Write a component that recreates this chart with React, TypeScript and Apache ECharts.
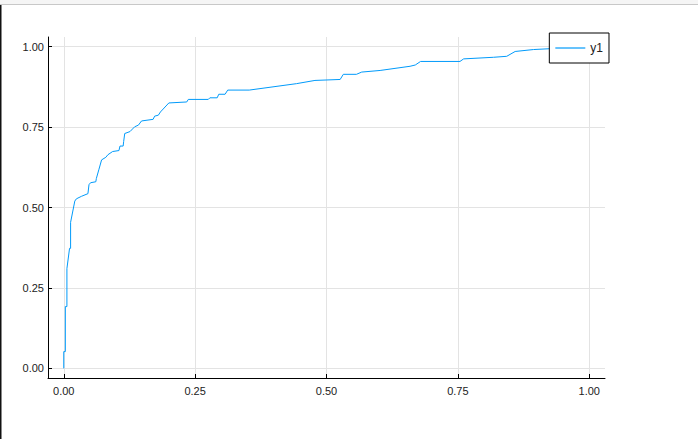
import React, { useEffect, useRef } from "react";
import * as echarts from "echarts";

const fpr = [
  0, 0, 0.003, 0.003, 0.006, 0.006, 0.011, 0.013, 0.013, 0.021, 0.024, 0.034, 0.046, 0.048, 0.051, 0.061,
  0.062, 0.067, 0.072, 0.08, 0.084, 0.093, 0.105, 0.107, 0.113, 0.114, 0.116, 0.126, 0.135, 0.142, 0.148,
  0.17, 0.173, 0.18, 0.184, 0.2, 0.234, 0.237, 0.275, 0.278, 0.292, 0.295, 0.307, 0.312, 0.353, 0.443,
  0.478, 0.526, 0.532, 0.557, 0.567, 0.602, 0.659, 0.669, 0.679, 0.754, 0.761, 0.818, 0.843, 0.859, 0.894,
  0.93, 1.0,
];
const tpr = [
  0, 0.052, 0.052, 0.192, 0.192, 0.31, 0.373, 0.373, 0.454, 0.52, 0.527, 0.535, 0.543, 0.571, 0.577, 0.58,
  0.59, 0.619, 0.648, 0.656, 0.664, 0.674, 0.677, 0.691, 0.691, 0.705, 0.73, 0.736, 0.751, 0.756, 0.769,
  0.774, 0.784, 0.787, 0.797, 0.825, 0.828, 0.836, 0.836, 0.841, 0.841, 0.852, 0.852, 0.865, 0.865, 0.885,
  0.895, 0.898, 0.914, 0.914, 0.921, 0.926, 0.939, 0.943, 0.954, 0.954, 0.962, 0.967, 0.97, 0.985, 0.991,
  0.994, 1.0,
];
const tickValues = [0, 0.25, 0.5, 0.75, 1.0];
const seriesName = "y1";

export default function App() {
  const ref = useRef<HTMLDivElement>(null);
  useEffect(() => {
    if (!ref.current) return;
    const chart = echarts.init(ref.current, undefined, { renderer: "svg" });
    const font = "'Liberation Sans', Arial, sans-serif";
    const axisCommon = {
      type: "value" as const,
      min: -0.03,
      max: 1.03,
      axisLine: { show: true, onZero: false, lineStyle: { color: "#000", width: 1 } },
      axisTick: {
        show: true,
        inside: true,
        length: 4,
        customValues: tickValues,
        lineStyle: { color: "#000", width: 1 },
      },
      axisLabel: {
        customValues: tickValues,
        color: "#222",
        fontSize: 11,
        fontFamily: font,
        formatter: (v: number) => v.toFixed(2),
      },
      splitLine: { show: true, lineStyle: { color: "#e3e3e3", width: 1 } },
    };
    chart.setOption({
      animation: false,
      backgroundColor: "#fff",
      grid: { left: 48, right: 93, top: 37, bottom: 61, containLabel: false },
      xAxis: { ...axisCommon, axisLabel: { ...axisCommon.axisLabel, margin: 7 } },
      yAxis: { ...axisCommon, axisLabel: { ...axisCommon.axisLabel, margin: 4 } },
      legend: {
        show: true,
        right: 89,
        top: 33,
        orient: "vertical",
        backgroundColor: "#fff",
        borderColor: "#000",
        borderWidth: 1,
        borderRadius: 0,
        padding: [8, 6, 8, 6],
        icon: "rect",
        itemWidth: 30,
        itemHeight: 1.2,
        itemGap: 4,
        textStyle: { color: "#222", fontSize: 12, fontFamily: font, lineHeight: 14 },
        data: [seriesName],
      },
      graphic: [
        { type: "rect", shape: { x: 0, y: 0, width: 698, height: 4 }, style: { fill: "#f5f5f5" }, silent: true },
        { type: "line", shape: { x1: 0, y1: 4.5, x2: 698, y2: 4.5 }, style: { stroke: "#c8c8c8", lineWidth: 1 }, silent: true },
        { type: "rect", shape: { x: 0, y: 5, width: 1.5, height: 434 }, style: { fill: "#111" }, silent: true },
      ],
      series: [
        {
          name: seriesName,
          type: "line",
          data: fpr.map((x, i) => [x, tpr[i]]),
          showSymbol: false,
          symbol: "none",
          lineStyle: { color: "#009AFA", width: 1 },
          itemStyle: { color: "#009AFA" },
          z: 3,
        },
      ],
    });
    return () => chart.dispose();
  }, []);
  return (
    <div
      ref={ref}
      style={{ position: "absolute", left: 0, top: 0, width: 698, height: 439 }}
    />
  );
}
